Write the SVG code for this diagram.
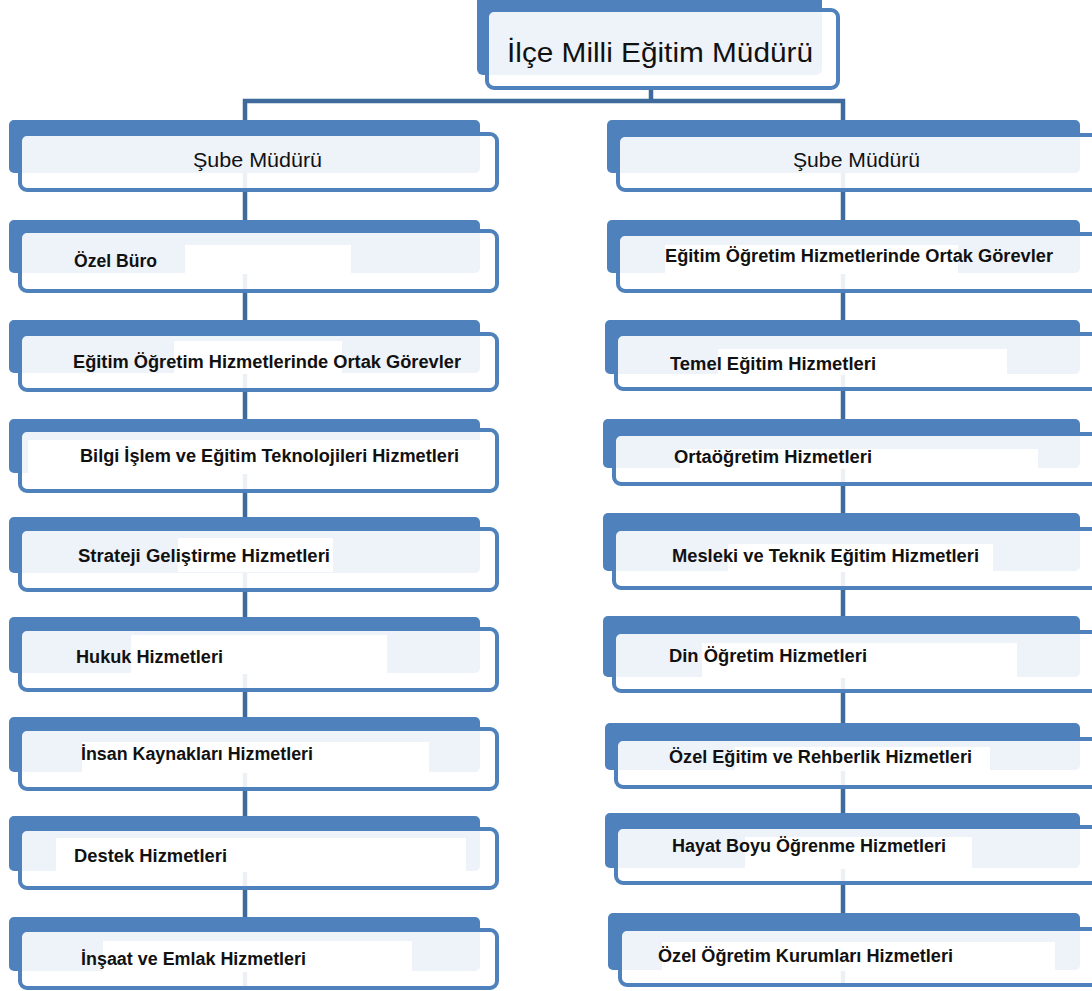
<svg xmlns="http://www.w3.org/2000/svg" width="1092" height="991" viewBox="0 0 1092 991">
<style>
.bk{fill:#4F81BD}
.fr{fill:#FFFFFF;fill-opacity:0.9;stroke:#4F81BD;stroke-width:4}
.wb{fill:#FFFFFF}
.lb{font-family:"Liberation Sans",Arial,sans-serif;font-weight:bold;font-size:18px;fill:#111111}
.sb{font-family:"Liberation Sans",Arial,sans-serif;font-size:21px;fill:#111111}
.tp{font-family:"Liberation Sans",Arial,sans-serif;font-size:28px;fill:#111111}
.cn{fill:none;stroke:#3F6A9C;stroke-width:4.5}
</style>
<rect width="1092" height="991" fill="#FFFFFF"/>
<g id="connectors">
<path class="cn" d="M651,86 V101"/>
<path class="cn" d="M245,990 V101 H843 V987"/>
</g>
<g id="top">
<rect class="bk" x="477" y="-6" width="345" height="81" rx="6"/>
<rect class="fr" x="487" y="10" width="351" height="78" rx="7"/>
<text class="tp" x="507" y="62" textLength="306" lengthAdjust="spacingAndGlyphs">İlçe Milli Eğitim Müdürü</text>
</g>
<g id="L1">
<rect class="bk" x="9" y="120" width="471" height="53" rx="5"/>
<rect class="fr" x="20" y="134" width="477" height="56" rx="7"/>
<text class="sb" x="193" y="167" textLength="129" lengthAdjust="spacingAndGlyphs">Şube Müdürü</text>
</g>
<g id="L2">
<rect class="bk" x="9" y="220" width="471" height="53" rx="5"/>
<rect class="fr" x="20" y="231" width="477" height="60" rx="7"/>
<rect class="wb" x="185" y="245" width="166" height="29"/>
<text class="lb" x="74" y="267" textLength="83" lengthAdjust="spacingAndGlyphs">Özel Büro</text>
</g>
<g id="L3">
<rect class="bk" x="9" y="320" width="471" height="53" rx="5"/>
<rect class="fr" x="20" y="334" width="477" height="56" rx="7"/>
<rect class="wb" x="174" y="341" width="168" height="33"/>
<text class="lb" x="73" y="368" textLength="388" lengthAdjust="spacingAndGlyphs">Eğitim Öğretim Hizmetlerinde Ortak Görevler</text>
</g>
<g id="L4">
<rect class="bk" x="9" y="419" width="471" height="54" rx="5"/>
<rect class="fr" x="20" y="430" width="477" height="61" rx="7"/>
<rect class="wb" x="28" y="440" width="452" height="34"/>
<text class="lb" x="80" y="462" textLength="379" lengthAdjust="spacingAndGlyphs">Bilgi İşlem ve Eğitim Teknolojileri Hizmetleri</text>
</g>
<g id="L5">
<rect class="bk" x="9" y="517" width="471" height="56" rx="5"/>
<rect class="fr" x="20" y="529" width="477" height="61" rx="7"/>
<rect class="wb" x="178" y="538" width="155" height="34"/>
<text class="lb" x="78" y="562" textLength="252" lengthAdjust="spacingAndGlyphs">Strateji Geliştirme Hizmetleri</text>
</g>
<g id="L6">
<rect class="bk" x="9" y="617" width="471" height="56" rx="5"/>
<rect class="fr" x="20" y="629" width="477" height="61" rx="7"/>
<rect class="wb" x="131" y="635" width="256" height="39"/>
<text class="lb" x="76" y="663" textLength="147" lengthAdjust="spacingAndGlyphs">Hukuk Hizmetleri</text>
</g>
<g id="L7">
<rect class="bk" x="9" y="717" width="471" height="55" rx="5"/>
<rect class="fr" x="20" y="729" width="477" height="60" rx="7"/>
<rect class="wb" x="82" y="742" width="347" height="31"/>
<text class="lb" x="81" y="760" textLength="232" lengthAdjust="spacingAndGlyphs">İnsan Kaynakları Hizmetleri</text>
</g>
<g id="L8">
<rect class="bk" x="9" y="816" width="471" height="55" rx="5"/>
<rect class="fr" x="20" y="829" width="477" height="59" rx="7"/>
<rect class="wb" x="56" y="838" width="410" height="34"/>
<text class="lb" x="74" y="862" textLength="153" lengthAdjust="spacingAndGlyphs">Destek Hizmetleri</text>
</g>
<g id="L9">
<rect class="bk" x="9" y="917" width="471" height="54" rx="5"/>
<rect class="fr" x="20" y="930" width="477" height="58" rx="7"/>
<rect class="wb" x="103" y="941" width="309" height="31"/>
<text class="lb" x="81" y="965" textLength="225" lengthAdjust="spacingAndGlyphs">İnşaat ve Emlak Hizmetleri</text>
</g>
<g id="R1">
<rect class="bk" x="607" y="120" width="473" height="53" rx="5"/>
<rect class="fr" x="618" y="135" width="488" height="55" rx="7"/>
<text class="sb" x="793" y="167" textLength="127" lengthAdjust="spacingAndGlyphs">Şube Müdürü</text>
</g>
<g id="R2">
<rect class="bk" x="607" y="220" width="473" height="53" rx="5"/>
<rect class="fr" x="618" y="234" width="488" height="57" rx="7"/>
<rect class="wb" x="665" y="245" width="293" height="29"/>
<text class="lb" x="665" y="262" textLength="388" lengthAdjust="spacingAndGlyphs">Eğitim Öğretim Hizmetlerinde Ortak Görevler</text>
</g>
<g id="R3">
<rect class="bk" x="605" y="320" width="475" height="54" rx="5"/>
<rect class="fr" x="616" y="334" width="490" height="55" rx="7"/>
<rect class="wb" x="718" y="349" width="289" height="26"/>
<text class="lb" x="670" y="370" textLength="206" lengthAdjust="spacingAndGlyphs">Temel Eğitim Hizmetleri</text>
</g>
<g id="R4">
<rect class="bk" x="603" y="419" width="477" height="49" rx="5"/>
<rect class="fr" x="614" y="434" width="492" height="50" rx="7"/>
<rect class="wb" x="680" y="449" width="358" height="20"/>
<text class="lb" x="674" y="463" textLength="198" lengthAdjust="spacingAndGlyphs">Ortaöğretim Hizmetleri</text>
</g>
<g id="R5">
<rect class="bk" x="603" y="513" width="477" height="58" rx="5"/>
<rect class="fr" x="614" y="529" width="492" height="59" rx="7"/>
<rect class="wb" x="728" y="544" width="265" height="28"/>
<text class="lb" x="672" y="562" textLength="307" lengthAdjust="spacingAndGlyphs">Mesleki ve Teknik Eğitim Hizmetleri</text>
</g>
<g id="R6">
<rect class="bk" x="603" y="616" width="477" height="61" rx="5"/>
<rect class="fr" x="614" y="632" width="492" height="59" rx="7"/>
<rect class="wb" x="702" y="643" width="315" height="35"/>
<text class="lb" x="669" y="662" textLength="198" lengthAdjust="spacingAndGlyphs">Din Öğretim Hizmetleri</text>
</g>
<g id="R7">
<rect class="bk" x="605" y="723" width="475" height="47" rx="5"/>
<rect class="fr" x="616" y="739" width="490" height="48" rx="7"/>
<rect class="wb" x="735" y="747" width="255" height="24"/>
<text class="lb" x="669" y="763" textLength="303" lengthAdjust="spacingAndGlyphs">Özel Eğitim ve Rehberlik Hizmetleri</text>
</g>
<g id="R8">
<rect class="bk" x="605" y="813" width="475" height="55" rx="5"/>
<rect class="fr" x="616" y="827" width="490" height="56" rx="7"/>
<rect class="wb" x="745" y="837" width="227" height="32"/>
<text class="lb" x="672" y="852" textLength="274" lengthAdjust="spacingAndGlyphs">Hayat Boyu Öğrenme Hizmetleri</text>
</g>
<g id="R9">
<rect class="bk" x="608" y="913" width="472" height="57" rx="5"/>
<rect class="fr" x="620" y="929" width="486" height="56" rx="7"/>
<rect class="wb" x="662" y="942" width="393" height="29"/>
<text class="lb" x="658" y="962" textLength="295" lengthAdjust="spacingAndGlyphs">Özel Öğretim Kurumları Hizmetleri</text>
</g>
</svg>
